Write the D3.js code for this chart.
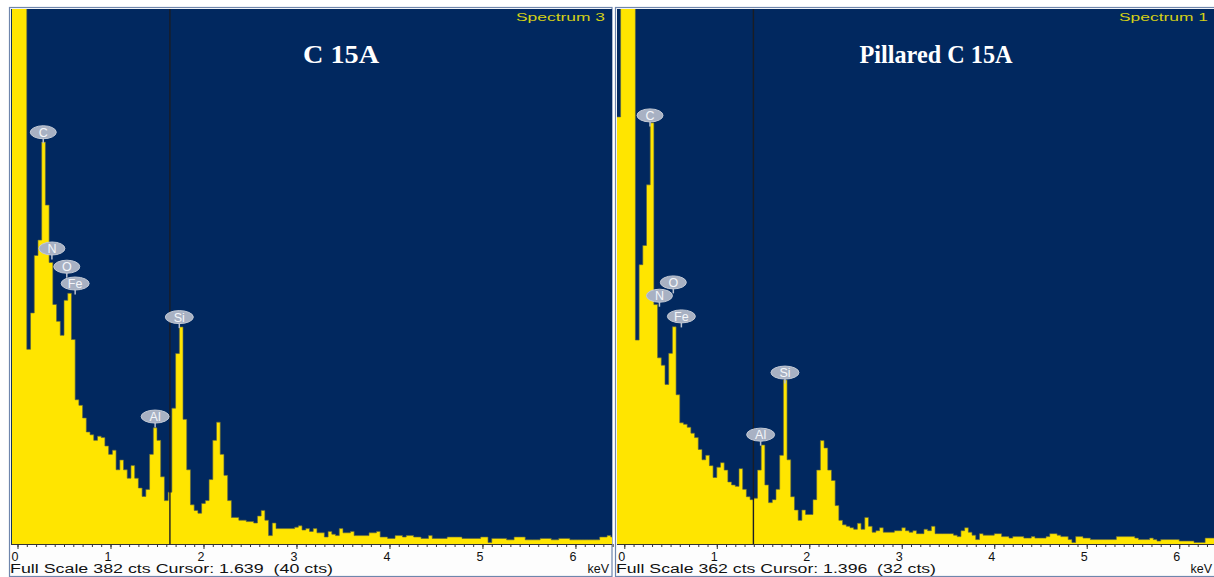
<!DOCTYPE html>
<html>
<head>
<meta charset="utf-8">
<script src="https://cdn.jsdelivr.net/npm/d3@7"></script>
<style>
  body { margin: 0; background: #fff; }
  svg text { font-family: "Liberation Sans", Arial, sans-serif; }
</style>
</head>
<body>
<div id="eds"></div>
<script>
// EDS spectra, 0.04 keV bins, counts
const binWidth = 0.04;

const c15aStart = -0.06;
const c15aCounts = [
  430, 430, 430, 430, 139, 165, 206, 217, 287, 242,
  201, 171, 159, 149, 174, 179, 146, 103, 99, 90,
  80, 78, 74, 77, 76, 70, 64, 67, 53, 60,
  53, 47, 56, 47, 40, 34, 39, 64, 83, 74,
  48, 31, 37, 97, 136, 155, 89, 53, 28, 24,
  22, 29, 31, 46, 74, 87, 64, 49, 31, 19,
  19, 17, 17, 16, 16, 15, 20, 24, 17, 6,
  15, 11, 11, 11, 11, 11, 12, 13, 10, 11,
  9, 11, 8, 8, 5, 9, 7, 6, 11, 8,
  8, 9, 6, 6, 6, 6, 8, 8, 9, 5,
  5, 4, 4, 6, 6, 5, 6, 6, 5, 5,
  4, 4, 6, 4, 4, 4, 4, 5, 5, 5,
  5, 4, 4, 4, 4, 4, 5, 5, 1, 4,
  4, 4, 4, 3, 3, 5, 5, 5, 3, 3,
  3, 3, 4, 4, 4, 3, 3, 4, 4, 4,
  3, 3, 3, 3, 3, 3, 3, 3, 5, 5,
  6, 5
];

const pillaredStart = -0.08;
const pillaredCounts = [
  289, 400, 400, 400, 400, 138, 189, 202, 243, 285,
  162, 126, 121, 108, 129, 147, 101, 82, 81, 79,
  75, 72, 64, 57, 60, 53, 45, 52, 55, 50,
  42, 40, 39, 51, 37, 32, 30, 31, 50, 67,
  40, 28, 30, 37, 60, 111, 57, 32, 23, 16,
  23, 20, 20, 30, 50, 70, 65, 50, 43, 26,
  16, 13, 12, 11, 10, 14, 10, 18, 12, 8,
  9, 11, 8, 8, 8, 9, 9, 11, 9, 8,
  9, 7, 7, 10, 9, 12, 7, 7, 7, 7,
  7, 6, 5, 9, 11, 8, 6, 3, 7, 6,
  6, 6, 7, 7, 5, 5, 4, 5, 5, 5,
  4, 4, 5, 4, 4, 4, 5, 7, 7, 6,
  5, 5, 3, 1, 5, 5, 4, 4, 3, 3,
  3, 3, 3, 3, 3, 5, 5, 5, 5, 5,
  4, 3, 3, 3, 4, 3, 2, 3, 3, 3,
  3, 3, 2, 2, 2, 2, 1, 1, 1, 4,
  4, 4
];

// element markers: name, energy (keV), height of the bubble (cts)
const c15aElements = ['C', 'N', 'O', 'Fe', 'Al', 'Si'];
const c15aElementKev = [0.277, 0.37, 0.53, 0.62, 1.48, 1.74];
const c15aElementCts = [294, 211, 198, 186, 91, 162];

const pillaredElements = ['C', 'O', 'N', 'Fe', 'Al', 'Si'];
const pillaredElementKev = [0.278, 0.53, 0.38, 0.617, 1.474, 1.737];
const pillaredElementCts = [290, 177, 168, 154, 74, 116];

const majorTicks = [0, 1, 2, 3, 4, 5, 6];
const minorTicks = d3.range(0, 6.45, 0.1);

const width = 1214;
const height = 577;

const svg = d3.select('#eds')
  .append('svg')
  .attr('width', width)
  .attr('height', height);


class EdsPanel {

  constructor(svg, left, right, id) {
    this.svg = svg;
    this.left = left;
    this.right = right;
    this.top = 9;
    this.bottom = 544;
    this.id = id;
    this.g = svg.append('g');
  }

  /**
   * Draws one spectrum panel.
   * @param p spectrum, scale and caption info
   */
  draw(p) {
    let x = d3.scaleLinear().domain(p.domain).range([this.left, this.right]);
    let y = d3.scaleLinear().domain([0, p.fullScale]).range([this.bottom, this.top]);

    // frame + bottom strip
    this.g.append('rect')
      .attr('x', this.left - 1.5).attr('y', 7.5)
      .attr('width', this.right - this.left + 1.5).attr('height', 569)
      .attr('fill', '#fdfdfd')
      .attr('stroke', '#6f86ad').attr('stroke-width', 1.2);

    this.g.append('rect')
      .attr('x', this.left).attr('y', this.top)
      .attr('width', this.right - this.left).attr('height', this.bottom - this.top)
      .attr('fill', '#01285f');

    this.svg.append('clipPath').attr('id', 'clip' + this.id)
      .append('rect')
      .attr('x', this.left).attr('y', this.top)
      .attr('width', this.right - this.left).attr('height', this.bottom - this.top);

    let pts = p.counts.map((c, i) => ({e: p.start + i * binWidth, c: c}));
    pts.push({e: p.start + p.counts.length * binWidth, c: p.counts[p.counts.length - 1]});

    let area = d3.area()
      .x(d => x(d.e))
      .y0(this.bottom)
      .y1(d => y(d.c))
      .curve(d3.curveStepAfter);
    let line = d3.line()
      .x(d => x(d.e))
      .y(d => y(d.c))
      .curve(d3.curveStepAfter);

    let plot = this.g.append('g').attr('clip-path', 'url(#clip' + this.id + ')');
    plot.append('path')
      .datum(pts)
      .attr('d', area)
      .attr('fill', '#ffe500');
    plot.append('path')
      .datum(pts)
      .attr('d', line)
      .attr('fill', 'none')
      .attr('stroke', '#5b6347')
      .attr('stroke-width', 0.8)
      .attr('stroke-opacity', 0.8);

    // cursor
    plot.append('line')
      .attr('x1', x(p.cursor)).attr('x2', x(p.cursor))
      .attr('y1', this.top).attr('y2', this.bottom)
      .attr('stroke', '#1a1d24').attr('stroke-width', 1.4);

    // element bubbles
    let el = plot.selectAll('g.el')
      .data(p.elements.map((n, i) => ({name: n, kev: p.elementKev[i], cts: p.elementCts[i]})))
      .enter()
      .append('g')
      .attr('class', 'el')
      .attr('transform', d => 'translate(' + x(d.kev) + ',' + y(d.cts) + ')');
    el.append('line')
      .attr('x1', 0).attr('x2', 0).attr('y1', 4).attr('y2', 11)
      .attr('stroke', '#b9c1cf').attr('stroke-width', 1.5);
    el.append('ellipse')
      .attr('rx', d => d.name.length > 1 ? 14 : 13)
      .attr('ry', 6.5)
      .attr('fill', '#a8b1c3')
      .attr('stroke', '#c3cad6').attr('stroke-width', 1);
    el.append('text')
      .attr('text-anchor', 'middle')
      .attr('y', 4.5)
      .attr('font-size', 12.5)
      .attr('fill', '#f4f6fa')
      .text(d => d.name);

    // energy axis
    this.g.append('g')
      .attr('transform', 'translate(0,' + this.bottom + ')')
      .call(d3.axisBottom(x).tickValues(minorTicks).tickSize(3).tickFormat(''))
      .call(g => g.select('.domain').remove())
      .selectAll('line').attr('stroke', '#333');

    let ax = this.g.append('g')
      .attr('transform', 'translate(0,' + this.bottom + ')')
      .call(d3.axisBottom(x).tickValues(majorTicks).tickSize(5).tickPadding(3).tickFormat(d3.format('d')));
    ax.select('.domain')
      .attr('d', 'M' + this.left + ',0.5H' + this.right)
      .attr('stroke', '#333');
    ax.selectAll('line').attr('stroke', '#333');
    ax.selectAll('text')
      .attr('x', -3)
      .attr('font-size', 12.5)
      .attr('fill', '#111');

    this.g.append('text')
      .attr('x', this.left - 1).attr('y', 573)
      .attr('font-size', 12.5)
      .attr('fill', '#111')
      .attr('textLength', p.footerWidth)
      .attr('lengthAdjust', 'spacingAndGlyphs')
      .style('white-space', 'pre')
      .text('Full Scale ' + p.fullScale + ' cts Cursor: ' + p.cursor.toFixed(3) + '  (' + p.cursorCts + ' cts)');

    this.g.append('text')
      .attr('x', this.right - 3).attr('y', 573)
      .attr('text-anchor', 'end')
      .attr('font-size', 12.5)
      .attr('fill', '#111')
      .text('keV');

    this.g.append('text')
      .attr('x', this.right - 7).attr('y', 21)
      .attr('text-anchor', 'end')
      .attr('font-size', 11)
      .attr('fill', '#d4d016')
      .attr('textLength', 89)
      .attr('lengthAdjust', 'spacingAndGlyphs')
      .text(p.spectrum);

    this.g.append('text')
      .attr('x', p.titleX).attr('y', 63)
      .attr('text-anchor', 'middle')
      .style('font-family', '"Liberation Serif", "Times New Roman", serif')
      .attr('font-weight', 'bold')
      .attr('font-size', 25)
      .attr('fill', '#ffffff')
      .attr('textLength', p.titleWidth)
      .attr('lengthAdjust', 'spacingAndGlyphs')
      .text(p.title);
  }
}

let leftPanel = new EdsPanel(svg, 11, 612, 'L');
leftPanel.draw({
  domain: [-0.07, 6.393],
  fullScale: 382,
  start: c15aStart,
  counts: c15aCounts,
  cursor: 1.639,
  cursorCts: 40,
  elements: c15aElements,
  elementKev: c15aElementKev,
  elementCts: c15aElementCts,
  spectrum: 'Spectrum 3',
  title: 'C 15A',
  titleX: 341,
  titleWidth: 76,
  footerWidth: 323
});

let rightPanel = new EdsPanel(svg, 617, 1215, 'R');
rightPanel.draw({
  domain: [-0.079, 6.387],
  fullScale: 362,
  start: pillaredStart,
  counts: pillaredCounts,
  cursor: 1.396,
  cursorCts: 32,
  elements: pillaredElements,
  elementKev: pillaredElementKev,
  elementCts: pillaredElementCts,
  spectrum: 'Spectrum 1',
  title: 'Pillared C 15A',
  titleX: 936,
  titleWidth: 153,
  footerWidth: 320
});
</script>
</body>
</html>
